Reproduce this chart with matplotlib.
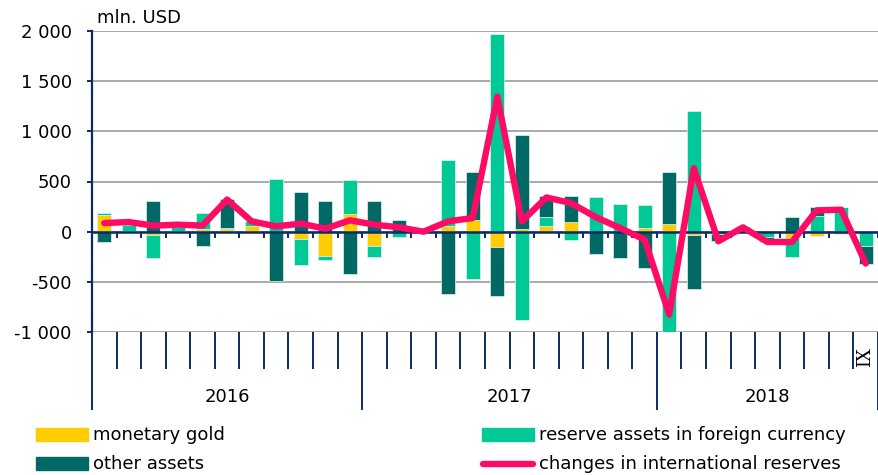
import numpy as np
import matplotlib
matplotlib.use("Agg")
import matplotlib.pyplot as plt
from matplotlib.patches import Rectangle
from matplotlib.lines import Line2D

# ---- data (mln. USD), monthly II 2016 - IX 2018 ----
months = ["II", "III", "IV", "V", "VI", "VII", "VIII", "IX", "X", "XI", "XII",
          "I", "II", "III", "IV", "V", "VI", "VII", "VIII", "IX", "X", "XI", "XII",
          "I", "II", "III", "IV", "V", "VI", "VII", "VIII", "IX"]
years = ["2016", "2017", "2018"]
year_counts = [11, 12, 9]

monetary_gold = [166, 5, -33, 10, 30, 27, 60, 0, -70, -242, 176,
                 -139, 0, -5, 60, 119, -156, 30, 60, 93, 0, 0, 33,
                 76, -36, -5, 0, -5, -66, -40, -23, 0]
reserve_fx = [22, 60, -229, 35, 156, 5, 50, 527, -258, -40, 335,
              -109, -50, 10, 656, -470, 1968, -881, 86, -86, 345, 275, 228,
              -1415, 1203, -20, 40, -50, -182, 152, 245, -146]
other_assets = [-106, 25, 302, 25, -139, 298, 0, -487, 394, 308, -417,
                301, 113, -10, -626, 480, -487, 938, 212, 265, -219, -262, -361,
                514, -540, -70, 10, -45, 146, 93, 0, -172]
changes_reserves = [86, 96, 60, 70, 60, 320, 103, 53, 80, 30, 113,
                    70, 43, 0, 103, 136, 1345, 103, 341, 285, 146, 36, -80,
                    -825, 633, -96, 43, -103, -103, 212, 219, -318]
shown_month_labels = {31: "IX"}

yticks = [-1000, -500, 0, 500, 1000, 1500, 2000]
ytick_labels = ["-1 000", "-500", "0", "500", "1 000", "1 500", "2 000"]

# ---- style ----
C_GOLD = "#FFCC00"
C_FX = "#00C896"
C_OTHER = "#006965"
C_LINE = "#FF0A64"
NAVY = "#0B2A6B"
GRID = "#A3A3A3"
FS = 13

W, H = 879, 475
fig = plt.figure(figsize=(W / 100, H / 100), dpi=100)
fig.patch.set_facecolor("white")
ax = fig.add_axes([92 / W, (H - 332) / H, (878 - 92) / W, (332 - 31) / H])

x = np.arange(len(months))
series = [(monetary_gold, C_GOLD), (reserve_fx, C_FX), (other_assets, C_OTHER)]
pos_base = np.zeros(len(x))
neg_base = np.zeros(len(x))
for vals, col in series:
    v = np.asarray(vals, dtype=float)
    bottom = np.where(v >= 0, pos_base, neg_base)
    ax.bar(x, v, bottom=bottom, width=0.57, color=col, edgecolor="#E6F2F0",
           linewidth=0.5, zorder=2)
    pos_base = pos_base + np.where(v >= 0, v, 0)
    neg_base = neg_base + np.where(v < 0, v, 0)

ax.plot(x, changes_reserves, color=C_LINE, lw=4.6, solid_joinstyle="round",
        solid_capstyle="round", zorder=5)

ax.set_xlim(-0.5, len(x) - 0.5)
ax.set_ylim(-1000, 2000)
ax.set_yticks(yticks)
ax.set_yticklabels(ytick_labels)
ax.yaxis.grid(True, color=GRID, lw=1.3, zorder=0)
ax.set_axisbelow(True)
for s in ["top", "right", "bottom"]:
    ax.spines[s].set_visible(False)
ax.spines["left"].set_color(NAVY)
ax.spines["left"].set_linewidth(1.6)
ax.tick_params(axis="y", direction="out", length=3.6, width=1.4, color=NAVY,
               pad=11, labelsize=FS, labelcolor="black")

# zero category axis with small ticks at month boundaries
zero_frac = (0 - (-1000)) / 3000
sec = ax.secondary_xaxis(zero_frac)
sec.spines["bottom"].set_color(NAVY)
sec.spines["bottom"].set_linewidth(1.8)
sec.spines["bottom"].set_zorder(4)
sec.set_xticks(np.arange(-0.5, len(x), 1.0))
sec.set_xticklabels([])
sec.tick_params(axis="x", direction="out", length=4.2, width=1.4, color=NAVY)
sec.set_zorder(4)

# bottom multi-level category ticks
bounds = np.cumsum([0] + year_counts) - 0.5
ax.set_xticks(bounds)
ax.set_xticklabels([])
ax.set_xticks(np.arange(-0.5, len(x), 1.0), minor=True)
ax.tick_params(axis="x", which="major", direction="out", length=56, width=1.4, color=NAVY)
ax.tick_params(axis="x", which="minor", direction="out", length=26.5, width=1.4, color=NAVY)

trans = ax.get_xaxis_transform()
for i, yr in enumerate(years):
    cx = (bounds[i] + bounds[i + 1]) / 2
    ax.text(cx, -0.215, yr, transform=trans, ha="center", va="center",
            fontsize=FS, color="black")
for idx, lab in shown_month_labels.items():
    ax.text(x[idx] - 0.03, -0.083, lab, transform=trans, ha="center", va="center",
            rotation=90, fontsize=FS, family="DejaVu Serif", color="black")

fig.text(97 / W, 1 - 18 / H, "mln. USD", ha="left", va="center", fontsize=FS)

# ---- legend ----
def fx_(px):
    return px / W

def fy_(py):
    return 1 - py / H

fig.add_artist(Rectangle((fx_(36), fy_(441)), fx_(52), 13 / H, color=C_GOLD,
                         transform=fig.transFigure))
fig.text(fx_(93), fy_(435), "monetary gold", va="center", ha="left", fontsize=FS)
fig.add_artist(Rectangle((fx_(36), fy_(470)), fx_(52), 13 / H, color=C_OTHER,
                         transform=fig.transFigure))
fig.text(fx_(93), fy_(464), "other assets", va="center", ha="left", fontsize=FS)
fig.add_artist(Rectangle((fx_(482), fy_(441)), fx_(52), 13 / H, color=C_FX,
                         transform=fig.transFigure))
fig.text(fx_(539), fy_(435), "reserve assets in foreign currency", va="center",
         ha="left", fontsize=FS)
fig.add_artist(Line2D([fx_(483), fx_(533)], [fy_(464), fy_(464)], color=C_LINE,
                      lw=4.6, solid_capstyle="round", transform=fig.transFigure))
fig.text(fx_(539), fy_(464), "changes in international reserves", va="center",
         ha="left", fontsize=FS)

fig.savefig("out.png", dpi=100)
